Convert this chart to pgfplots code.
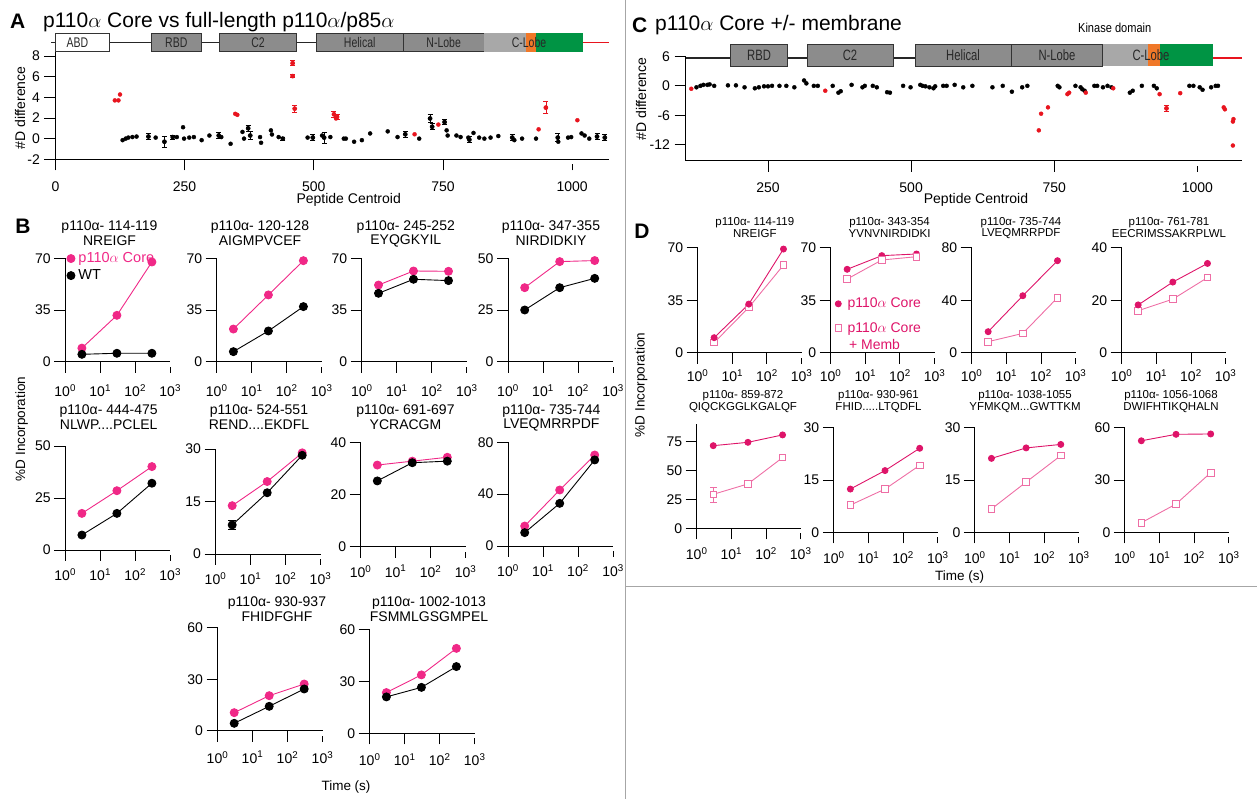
\documentclass[border=0pt]{standalone}
\usepackage{pgfplots}
\pgfplotsset{compat=1.18}
\usepackage{fontspec}
\usepackage{graphicx}
\setmainfont{Liberation Sans}
\newcommand\fs[1]{\fontsize{#1}{#1}\selectfont}
\definecolor{bpink}{RGB}{240,40,135}
\definecolor{dcore}{RGB}{222,20,105}
\definecolor{dmemb}{RGB}{238,110,165}
\definecolor{redpt}{RGB}{232,20,30}
\definecolor{boxgray}{RGB}{140,140,140}
\definecolor{lgray}{RGB}{168,168,168}
\definecolor{korange}{RGB}{240,120,40}
\definecolor{kgreen}{RGB}{0,148,68}
\definecolor{boxtext}{RGB}{40,40,40}
\pgfplotsset{
  myaxbase/.style={scale only axis, anchor=south west, axis x line*=bottom, axis y line*=left,
    tick align=outside, major tick length=11pt, axis line style={line width=0.9pt, black},
    tick style={line width=0.9pt, black}, xtick style={shorten >=5pt},
    /pgf/number format/assume math mode=true,
    /pgf/number format/1000 sep={}, clip=false},
  smallax/.style={myaxbase, width=105pt, height=#1, xmin=1, xmax=1000, ymin=0,
    xtick={1,10,100,1000},
    xticklabels={10\textsuperscript{0},10\textsuperscript{1},10\textsuperscript{2},10\textsuperscript{3}},
    xminorticks=false, ticklabel style={font=\fs{14}}},
  xls/.style={xticklabel style={yshift=#1}},
}
\tikzset{
  bcore/.style={color=bpink, mark=*, mark size=4pt, line width=0.9pt},
  bwt/.style={color=black, mark=*, mark size=4pt, line width=0.9pt},
  dc/.style={color=dcore, mark=*, mark size=3pt, line width=0.9pt},
  dm/.style={color=dmemb, mark=square*, mark size=3.3pt, line width=0.9pt, mark options={fill=white}},
}
\newcommand\T[4][]{\node[font=\fs{14},inner sep=0pt,#1] at (#2,{799-(#3)}) {#4};}
\newcommand\BT[4]{\T{#1}{#2}{p110α- #3}\T{#1}{#2+14}{#4}}
\newcommand\DT[4]{\T[font=\fs{11.5}]{#1}{#2}{p110α- #3}\T[font=\fs{11.5}]{#1}{#2+11.5}{#4}}
\begin{document}
\begin{tikzpicture}[x=1pt,y=1pt]
\useasboundingbox (0,0) rectangle (1257,799);
% dividers
\draw[gray!70, line width=1pt] (625,0) -- (625,799);
\draw[gray!70, line width=1pt] (625,{799-587}) -- (1257,{799-587});

% ================= Panel A =================
\begin{axis}[myaxbase, at={(55.4pt,639.7pt)}, width=553.5pt, height=108.5pt,
  xmin=0, xmax=1071, ymin=-2, ymax=8.5, xtick={0,250,500,750,1000}, ytick={-2,0,2,4,6,8},
  ticklabel style={font=\fs{14}}, xls=-7.5pt, yticklabel style={xshift=-1pt}]
\addplot[only marks, mark=*, mark size=2pt, black] coordinates {
(130,-0.15)(136,0)(141,0.1)(149,0.15)(157,0.2)(194,0.1)(235,0.15)(247,1.1)(249,0)(259,0.1)
(268,0.15)(283,-0.15)(298,0.3)(321,0.15)(339,-0.5)(362,0.65)(365,0)(396,0.15)(398,-0.4)(417,0.8)
(419,0.4)(432,0.15)(488,0.1)(516,0.3)(532,0.15)(558,0)(562,0)(578,-0.3)(593,-0.15)(609,0.5)
(643,0.7)(662,0.15)(704,0)(757,0.8)(759,0.3)(776,0.3)(784,0.15)(799,0.1)(809,0.55)(820,0.1)
(830,0)(842,0.1)(857,0.25)(888,-0.15)(903,0)(930,0)(973,-0.3)(992,0.1)(998,0.15)(1018,0.5)
(1024,0.3)(1033,0)};
\addplot[only marks, mark=*, mark size=2pt, black, line width=0.7pt,
  error bars/.cd, y dir=both, y explicit, error mark options={rotate=90, mark size=2.5pt, line width=0.7pt}] coordinates {
(180,0.2)+-(0,0.3) (211,-0.3)+-(0,0.5) (227,0.15)+-(0,0.2) (316,0.3)+-(0,0.3) (373,1.0)+-(0,0.3)
(377,0.3)+-(0,0.4) (440,0.0)+-(0,0.15) (498,0.1)+-(0,0.3) (520,0.1)+-(0,0.55) (677,0.42)+-(0,0.3)
(725,1.95)+-(0,0.4) (729,1.15)+-(0,0.3) (753,1.6)+-(0,0.25) (801,-0.1)+-(0,0.3) (884,0.1)+-(0,0.3)
(972,0.1)+-(0,0.4) (1048,0.2)+-(0,0.3) (1063,0.1)+-(0,0.3)};
\addplot[only marks, mark=*, mark size=2pt, redpt] coordinates {
(115,3.7)(122,3.7)(125,4.27)(348,2.4)(352,2.3)(695,0.42)(741,1.36)(935,0.9)(1010,1.78)(543,1.95)};
\addplot[only marks, mark=*, mark size=2pt, redpt, line width=0.7pt,
  error bars/.cd, y dir=both, y explicit, error mark options={rotate=90, mark size=2.5pt, line width=0.7pt}] coordinates {
(459,7.3)+-(0,0.25) (459,6.05)+-(0,0.15) (463,2.9)+-(0,0.35) (539,2.35)+-(0,0.3) (545,2.1)+-(0,0.25) (949,3.0)+-(0,0.6)};
\end{axis}
% domain bar A
\draw[line width=1.2pt, black!85] (51.4,{799-42.7}) -- (583,{799-42.7});
\draw[line width=1.2pt, redpt] (583,{799-42.7}) -- (609,{799-42.7});
\filldraw[fill=white, draw=black!80, line width=0.7pt] (55,{799-33.3}) rectangle (109.3,{799-51.7});
\foreach \a/\b in {151/201.7, 219.3/296.7, 316/403.3, 403.3/484}
  \filldraw[fill=boxgray, draw=black!80, line width=0.7pt] (\a,{799-33.3}) rectangle (\b,{799-51.7});
\fill[lgray] (484,{799-33.3}) rectangle (526,{799-51.7});
\fill[korange] (526,{799-33.3}) rectangle (536,{799-51.7});
\fill[kgreen] (536,{799-33.3}) rectangle (583,{799-51.7});
\foreach \x/\t in {77.5/ABD, 176.3/RBD, 258/C2, 359.7/Helical, 443.7/N-Lobe, 529/C-Lobe}
  \node[font=\fs{14}, text=boxtext, inner sep=0pt] at (\x,{799-42.5}) {\scalebox{0.75}[1]{\t}};
% titles/labels A
\T[font=\fs{21}\bfseries, anchor=west]{10}{21.7}{A}
\T[font=\fs{21}, anchor=west]{43}{21.7}{p110$\alpha$ Core vs full-length p110$\alpha$/p85$\alpha$}
\T[rotate=90]{20}{108}{\#D difference}
\T{348.7}{200}{Peptide Centroid}

% ================= Panel C =================
\begin{axis}[myaxbase, at={(685.5pt,638.3pt)}, width=556.2pt, height=104.2pt,
  xmin=105.9, xmax=1077.4, ymin=-15.3, ymax=6, xtick={250,500,750,1000}, ytick={-12,-6,0,6},
  ticklabel style={font=\fs{14}}, xls=-8pt, yticklabel style={xshift=-1pt}]
\addplot[only marks, mark=*, mark size=2pt, black] coordinates {
(125,-0.3)(132,0)(137,0.2)(144,0.2)(148,0.3)(156,0)(180,0.1)(194,0.1)(209,-0.3)(227,-0.5)
(234,-0.3)(243,-0.1)(250,-0.1)(257,0)(270,0)(282,0)(296,-0.3)(313,1.1)(317,0.5)(330,0)
(337,0)(363,0)(373,-1.4)(377,-1.1)(396,0.2)(415,-0.3)(419,0)(433,0)(440,-0.3)(458,-1.3)
(463,-1.4)(486,0)(499,-0.3)(516,0.2)(520,0)(525,-0.1)(532,-0.3)(539,-0.5)(542,-0.1)(556,0)
(562,0)(576,0.2)(591,-0.3)(607,0)(642,-0.3)(660,0)(676,-1.2)(694,-0.3)(703,0)(756,0)
(759,-0.3)(787,0)(796,-0.3)(799,-0.7)(803,-1.0)(820,0)(825,0)(835,-0.3)(843,0)(850,-0.3)
(882,-1.4)(887,-1.0)(903,0)(924,0)(929,-0.5)(986,0)(993,0)(1004,-0.3)(1009,-0.8)(1024,-0.3)
(1032,0)(1036,0)};
\addplot[only marks, mark=*, mark size=2pt, redpt] coordinates {
(116,-0.6)(350,-1.0)(723,-9.1)(727,-5.7)(739,-4.4)(773,-1.7)(776,-1.4)(805,-1.4)(853,-0.5)
(934,-1.7)(970,-1.5)(1046,-4.4)(1048,-4.8)(1063,-6.8)(1062,-7.3)(1062,-12.2)};
\addplot[only marks, mark=*, mark size=2pt, redpt, line width=0.7pt,
  error bars/.cd, y dir=both, y explicit, error mark options={rotate=90, mark size=2.5pt, line width=0.7pt}] coordinates {
(946,-4.6)+-(0,0.6)};
\end{axis}
% domain bar C
\draw[line width=1.2pt, black!85] (685.5,{799-58}) -- (1212.7,{799-58});
\draw[line width=1.2pt, redpt] (1212.7,{799-58}) -- (1241.7,{799-58});
\foreach \a/\b in {730.6/787.4, 807.2/893, 915.2/1011.1, 1011.1/1102.6}
  \filldraw[fill=boxgray, draw=black!80, line width=0.7pt] (\a,{799-44}) rectangle (\b,{799-66});
\fill[lgray] (1102.6,{799-44}) rectangle (1148.2,{799-66});
\fill[korange] (1148.2,{799-44}) rectangle (1160.3,{799-66});
\fill[kgreen] (1160.3,{799-44}) rectangle (1212.7,{799-66});
\foreach \x/\t in {759/RBD, 850/C2, 963/Helical, 1057/N-Lobe, 1151/C-Lobe}
  \node[font=\fs{15}, text=boxtext, inner sep=0pt] at (\x,{799-55}) {\scalebox{0.75}[1]{\t}};
\T[font=\fs{13}]{1114.7}{28.3}{\scalebox{0.85}[1]{Kinase domain}}
\T[font=\fs{21}\bfseries, anchor=west]{632}{25}{C}
\T[font=\fs{21}, anchor=west]{655}{25}{p110$\alpha$ Core +/- membrane}
\T[rotate=90]{641}{99}{\#D difference}
\T{976}{200}{Peptide Centroid}

% ================= Panel B =================
\T[font=\fs{21}\bfseries]{23}{226.7}{B}
% row 1
\begin{semilogxaxis}[smallax=103.4pt, xls=-8.5pt, at={(65.2pt,437.3pt)}, ymax=70, ytick={0,35,70},
  legend image code/.code={\draw[#1] plot[only marks] coordinates {(0.15cm,0cm)};},
  legend style={draw=none, fill=none, at={(axis description cs:0.015,1.075)}, anchor=north west,
  font=\fs{14.5}, inner sep=0pt, row sep=1.5pt, cells={anchor=west},
  /tikz/every odd column/.append style={column sep=1.5pt}}, legend cell align=left]
\addplot[bcore] coordinates {(3,9.2)(30,31.4)(300,67.5)};
\addlegendentry{\textcolor{bpink}{p110$\alpha$ Core}}
\addplot[bwt] coordinates {(3,5)(30,5.7)(300,5.7)};
\addlegendentry{WT}
\end{semilogxaxis}
\begin{semilogxaxis}[smallax=103.4pt, xls=-8.5pt, at={(216.7pt,437.3pt)}, ymax=70, ytick={0,35,70}]
\addplot[bcore] coordinates {(3,22.1)(30,45.2)(300,68.4)};
\addplot[bwt] coordinates {(3,6.8)(30,20.8)(300,37.3)};
\end{semilogxaxis}
\begin{semilogxaxis}[smallax=103.4pt, xls=-8.5pt, at={(361.8pt,437.3pt)}, ymax=70, ytick={0,35,70}]
\addplot[bcore] coordinates {(3,51.9)(30,61.4)(300,61.2)};
\addplot[bwt] coordinates {(3,46.3)(30,55.8)(300,54.9)};
\end{semilogxaxis}
\begin{semilogxaxis}[smallax=103.4pt, xls=-8.5pt, at={(508pt,437.3pt)}, ymax=50, ytick={0,25,50}]
\addplot[bcore] coordinates {(3,35.8)(30,48.4)(300,48.9)};
\addplot[bwt] coordinates {(3,25)(30,35.8)(300,40.3)};
\end{semilogxaxis}
% row 2
\begin{semilogxaxis}[smallax=104pt, xls=-4pt, at={(65.2pt,249pt)}, ymax=50, ytick={0,25,50}]
\addplot[bcore] coordinates {(3,17.6)(30,28.5)(300,40.1)};
\addplot[bwt] coordinates {(3,7.2)(30,17.6)(300,32.1)};
\end{semilogxaxis}
\begin{semilogxaxis}[smallax=105pt, xls=-4pt, at={(215.5pt,245pt)}, ymax=30, ytick={0,15,30}]
\addplot[bcore] coordinates {(3,13.8)(30,20.7)(300,28.9)};
\addplot[bwt, error bars/.cd, y dir=both, y explicit] coordinates {(3,8.3)+-(0,1.3)(30,17.5)+-(0,0)(300,28.2)+-(0,0)};
\end{semilogxaxis}
\begin{semilogxaxis}[smallax=104pt, xls=-4pt, at={(360.6pt,252.3pt)}, ymax=40, ytick={0,20,40}]
\addplot[bcore] coordinates {(3,31.4)(30,32.9)(300,34.4)};
\addplot[bwt] coordinates {(3,25.3)(30,32.3)(300,32.9)};
\end{semilogxaxis}
\begin{semilogxaxis}[smallax=103.7pt, xls=-4pt, at={(508pt,253pt)}, ymax=80, ytick={0,40,80}]
\addplot[bcore] coordinates {(3,15.4)(30,43.2)(300,70.2)};
\addplot[bwt] coordinates {(3,10.3)(30,32.9)(300,66.4)};
\end{semilogxaxis}
% row 3
\begin{semilogxaxis}[smallax=103pt, xls=-6pt, at={(217.5pt,68.3pt)}, ymax=60, ytick={0,30,60}]
\addplot[bcore] coordinates {(3,10.5)(30,20.4)(300,27.2)};
\addplot[bwt] coordinates {(3,4.3)(30,14.2)(300,24.3)};
\end{semilogxaxis}
\begin{semilogxaxis}[smallax=104pt, xls=-6pt, at={(369.7pt,65.7pt)}, ymax=60, ytick={0,30,60}]
\addplot[bcore] coordinates {(3,23.5)(30,33.7)(300,49)};
\addplot[bwt] coordinates {(3,21)(30,26.5)(300,38.5)};
\end{semilogxaxis}
% B titles
\BT{109.5}{226.7}{114-119}{NREIGF}
\BT{260}{226.7}{120-128}{AIGMPVCEF}
\BT{405.8}{226.7}{245-252}{EYQGKYIL}
\BT{551}{226.7}{347-355}{NIRDIDKIY}
\BT{108.7}{411}{444-475}{NLWP....PCLEL}
\BT{259}{411}{524-551}{REND....EKDFL}
\BT{405.5}{411}{691-697}{YCRACGM}
\BT{551.4}{411}{735-744}{LVEQMRRPDF}
\BT{277}{603}{930-937}{FHIDFGHF}
\BT{429}{603}{1002-1013}{FSMMLGSGMPEL}
\T[rotate=90, font=\fs{13.5}]{21.7}{429}{\%D Incorporation}
\T[font=\fs{13.5}]{346}{786.7}{Time (s)}

% ================= Panel D =================
\T[font=\fs{21}\bfseries]{642}{231.7}{D}
\begin{semilogxaxis}[smallax=105pt, xls=-2.5pt, width=104pt, at={(697.6pt,446.3pt)}, ymax=70, ytick={0,35,70}]
\addplot[dm] coordinates {(3,6.7)(30,30.2)(300,58.4)};
\addplot[dc] coordinates {(3,10)(30,32.4)(300,69.1)};
\end{semilogxaxis}
\begin{semilogxaxis}[smallax=105pt, xls=-2.5pt, width=104pt, at={(830.6pt,446.3pt)}, ymax=70, ytick={0,35,70},
  legend image code/.code={\draw[#1] plot[only marks] coordinates {(0.15cm,0cm)};},
  legend style={draw=none, fill=none, at={(axis description cs:0.04,0.54)}, anchor=north west,
  font=\fs{14}, inner sep=0pt, row sep=9pt, cells={anchor=north west},
  /tikz/every odd column/.append style={column sep=4pt}}, legend cell align=left]
\addplot[dc] coordinates {(3,55.6)(30,64.7)(300,65.8)};
\addlegendentry{\textcolor{dcore}{p110$\alpha$ Core}}
\addplot[dm] coordinates {(3,49.1)(30,61.8)(300,64)};
\addlegendentry{\textcolor{dcore}{\begin{tabular}[t]{@{}l@{}}p110$\alpha$ Core\\[2.5pt]\hspace{1.5pt}+ Memb\end{tabular}}}
\end{semilogxaxis}
\begin{semilogxaxis}[smallax=105pt, xls=-2.5pt, width=104pt, at={(971.6pt,446.3pt)}, ymax=80, ytick={0,40,80}]
\addplot[dm] coordinates {(3,8.4)(30,14.7)(300,41.9)};
\addplot[dc] coordinates {(3,16)(30,43.4)(300,70.1)};
\end{semilogxaxis}
\begin{semilogxaxis}[smallax=105pt, xls=-2.5pt, width=104pt, at={(1121.6pt,446.3pt)}, ymax=40, ytick={0,20,40}]
\addplot[dm] coordinates {(3,16)(30,20.4)(300,28.6)};
\addplot[dc] coordinates {(3,18.2)(30,26.9)(300,34)};
\end{semilogxaxis}
% row 2
\begin{semilogxaxis}[smallax=104pt, xls=-5pt, width=104pt, at={(696.7pt,270.7pt)}, ymax=90, ytick={0,25,50,75}]
\addplot[dm, error bars/.cd, y dir=both, y explicit] coordinates {(3,29.4)+-(0,6.5)(30,38.4)+-(0,2)(300,61.2)+-(0,0)};
\addplot[dc] coordinates {(3,71.5)(30,74.4)(300,80.8)};
\end{semilogxaxis}
\begin{semilogxaxis}[smallax=104.6pt, xls=-5pt, width=104pt, at={(833.8pt,266.7pt)}, ymax=30, ytick={0,15,30}]
\addplot[dm] coordinates {(3,7.8)(30,12.4)(300,19.2)};
\addplot[dc] coordinates {(3,12.4)(30,17.7)(300,24.1)};
\end{semilogxaxis}
\begin{semilogxaxis}[smallax=104.6pt, xls=-5pt, width=104pt, at={(974.9pt,266.7pt)}, ymax=30, ytick={0,15,30}]
\addplot[dm] coordinates {(3,6.7)(30,14.4)(300,22)};
\addplot[dc] coordinates {(3,21.2)(30,24.2)(300,25.2)};
\end{semilogxaxis}
\begin{semilogxaxis}[smallax=104.6pt, xls=-5pt, width=104pt, at={(1124.8pt,266.7pt)}, ymax=60, ytick={0,30,60}]
\addplot[dm] coordinates {(3,5.5)(30,16.2)(300,34.2)};
\addplot[dc] coordinates {(3,52.5)(30,56.2)(300,56.4)};
\end{semilogxaxis}
% D titles
\DT{754.8}{222.5}{114-119}{NREIGF}
\DT{889.6}{222.5}{343-354}{YVNVNIRDIDKI}
\DT{1021}{222.5}{735-744}{LVEQMRRPDF}
\DT{1169}{222.5}{761-781}{EECRIMSSAKRPLWL}
\DT{743}{396}{859-872}{QIQCKGGLKGALQF}
\DT{878.5}{396}{930-961}{FHID.....LTQDFL}
\DT{1025}{396}{1038-1055}{YFMKQM...GWTTKM}
\DT{1171}{396}{1056-1068}{DWIFHTIKQHALN}
\T[rotate=90, font=\fs{13.5}]{641}{385}{\%D Incorporation}
\T[font=\fs{13.5}]{959.5}{576.7}{Time (s)}
\end{tikzpicture}
\end{document}
